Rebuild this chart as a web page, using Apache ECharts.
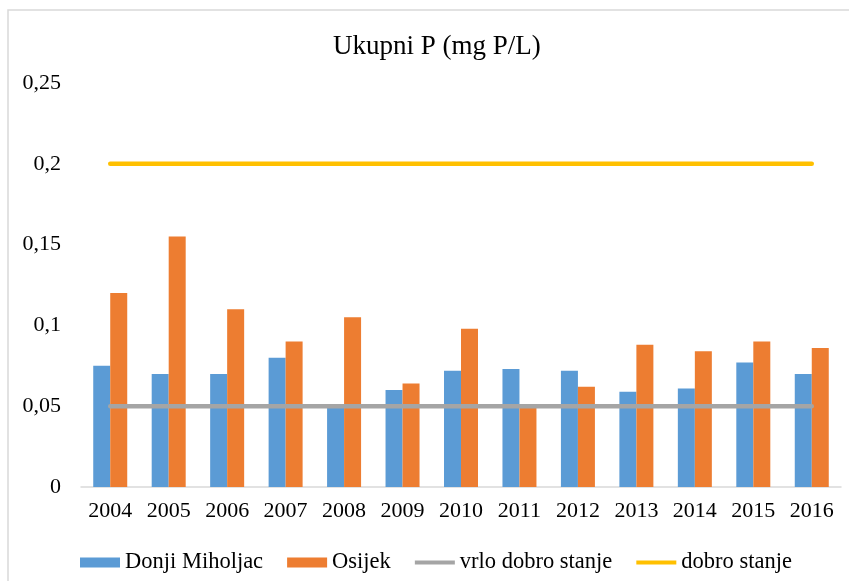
<!DOCTYPE html>
<html>
<head>
<meta charset="utf-8">
<script src="https://cdn.jsdelivr.net/npm/echarts@6/dist/echarts.min.js"></script>
<style>html,body{margin:0;padding:0;background:#fff;}#c{width:849px;height:581px;}</style>
</head>
<body>
<div id="c"></div>
<script>
const years = ['2004','2005','2006','2007','2008','2009','2010','2011','2012','2013','2014','2015','2016'];
const donjiMiholjac = [0.075,0.070,0.070,0.080,0.050,0.060,0.072,0.073,0.072,0.059,0.061,0.077,0.070];
const osijek = [0.120,0.155,0.110,0.090,0.105,0.064,0.098,0.050,0.062,0.088,0.084,0.090,0.086];
const vrloDobroStanje = [0.05,0.05,0.05,0.05,0.05,0.05,0.05,0.05,0.05,0.05,0.05,0.05,0.05];
const dobroStanje = [0.2,0.2,0.2,0.2,0.2,0.2,0.2,0.2,0.2,0.2,0.2,0.2,0.2];
const yTicks = {min: 0, max: 0.25, interval: 0.05};

const FONT = "Liberation Serif";
const chart = echarts.init(document.getElementById('c'), null, {renderer: 'canvas'});
chart.setOption({
  animation: false,
  backgroundColor: '#fff',
  textStyle: {fontFamily: FONT},
  graphic: [{
    type: 'rect', silent: true, z: -10,
    shape: {x: 8, y: 10, width: 900, height: 700},
    style: {fill: 'none', stroke: '#d9d9d9', lineWidth: 1.5}
  }],
  title: {
    text: 'Ukupni P (mg P/L)',
    left: 328, top: 28,
    textStyle: {fontFamily: FONT, fontSize: 27, fontWeight: 'normal', color: '#000'}
  },
  legend: {
    left: 75, top: 546,
    itemWidth: 40, itemHeight: 10, itemGap: 24,
    textStyle: {fontFamily: FONT, fontSize: 22.5, color: '#000'},
    data: [
      {name: 'Donji Miholjac', icon: 'rect'},
      {name: 'Osijek', icon: 'rect'},
      {name: 'vrlo dobro stanje', icon: 'path://M0,0 L40,0 L40,4 L0,4 Z'},
      {name: 'dobro stanje', icon: 'path://M0,0 L40,0 L40,4 L0,4 Z'}
    ]
  },
  grid: {left: 81, right: 8, top: 83, bottom: 94},
  xAxis: {
    type: 'category', data: years, boundaryGap: true,
    axisLine: {lineStyle: {color: '#d9d9d9', width: 1.5}},
    axisTick: {show: false},
    axisLabel: {fontFamily: FONT, fontSize: 22, color: '#000', margin: 13}
  },
  yAxis: {
    type: 'value', min: yTicks.min, max: yTicks.max, interval: yTicks.interval,
    axisLine: {show: false}, axisTick: {show: false}, splitLine: {show: false},
    axisLabel: {
      fontFamily: FONT, fontSize: 22, color: '#000', margin: 20,
      formatter: v => (Math.round(v * 100) / 100).toString().replace('.', ',')
    }
  },
  series: [
    {name: 'Donji Miholjac', type: 'bar', data: donjiMiholjac, barWidth: 17, barGap: '0%',
     itemStyle: {color: '#5B9BD5'}},
    {name: 'Osijek', type: 'bar', data: osijek, barWidth: 17, barGap: '0%',
     itemStyle: {color: '#ED7D31'}},
    {name: 'vrlo dobro stanje', type: 'line', data: vrloDobroStanje, symbol: 'none', z: 5,
     itemStyle: {color: '#A5A5A5'}, lineStyle: {color: '#A5A5A5', width: 4.5, cap: 'round'}},
    {name: 'dobro stanje', type: 'line', data: dobroStanje, symbol: 'none', z: 5,
     itemStyle: {color: '#FFC000'}, lineStyle: {color: '#FFC000', width: 4.5, cap: 'round'}}
  ]
});
</script>
</body>
</html>
